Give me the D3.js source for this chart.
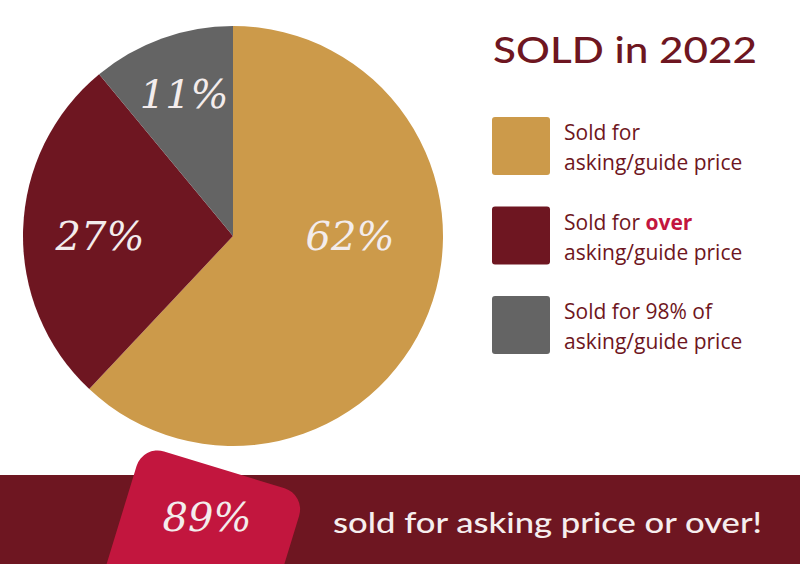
<!DOCTYPE html>
<html>
<head>
<meta charset="utf-8">
<script src="https://cdn.jsdelivr.net/npm/d3@7"></script>
<style>
  html, body { margin: 0; padding: 0; background: #ffffff; }
  svg { display: block; }
</style>
</head>
<body>
<svg id="chart" width="800" height="564"></svg>
<script>
// ---- data ----
const categories = ["Sold for asking/guide price", "Sold for over asking/guide price", "Sold for 98% of asking/guide price"];
const values = [62, 27, 11];
const legendLine1 = ["Sold for ", "Sold for ", "Sold for 98% of"];
const legendBold = ["", "over", ""];
const legendLine2 = ["asking/guide price", "asking/guide price", "asking/guide price"];
const title = "SOLD in 2022";
const bannerValue = 89;
const bannerText = "sold for asking price or over!";

// ---- styling / layout ----
const colors = ["#CC9A4A", "#6E1621", "#646464"];
const darkRed = "#6E1621";
const crimson = "#C2163E";
const labelColor = "#F3ECEC";
const cx = 233, cy = 236, R = 210;
// label anchor (angle in degrees clockwise from top, radius)
const labelAnchors = [[90, 117], [270, 133], [341, 150]];

const svg = d3.select("#chart");

// pie
const pie = d3.pie().sort(null).value(d => d);
const arc = d3.arc().innerRadius(0).outerRadius(R);
const arcs = pie(values);
const g = svg.append("g").attr("transform", `translate(${cx},${cy})`);
g.selectAll("path").data(arcs).enter().append("path")
  .attr("d", arc)
  .attr("fill", (d, i) => colors[i]);

const scriptFont = "'DejaVu Serif', serif";
g.selectAll("text.pct").data(arcs).enter().append("text")
  .attr("class", "pct")
  .attr("x", (d, i) => labelAnchors[i][1] * Math.sin(labelAnchors[i][0] * Math.PI / 180))
  .attr("y", (d, i) => -labelAnchors[i][1] * Math.cos(labelAnchors[i][0] * Math.PI / 180))
  .attr("dy", "0.35em")
  .attr("text-anchor", "middle")
  .attr("font-family", scriptFont)
  .attr("font-style", "italic")
  .attr("font-weight", 300)
  .attr("font-size", 40)
  .attr("fill", labelColor)
  .text(d => d.value + "%");

// title
svg.append("text")
  .attr("x", 493).attr("y", 63)
  .attr("font-family", "Lato, 'Noto Sans', sans-serif")
  .attr("font-size", 36)
  .attr("font-weight", 500)
  .attr("fill", darkRed)
  .attr("textLength", 264)
  .attr("lengthAdjust", "spacingAndGlyphs")
  .text(title);

// legend
const legendY = d3.scalePoint().domain(d3.range(categories.length)).range([117, 296]);
const leg = svg.selectAll("g.leg").data(categories).enter().append("g")
  .attr("class", "leg")
  .attr("transform", (d, i) => `translate(492,${legendY(i)})`);
leg.append("rect")
  .attr("width", 58).attr("height", 58).attr("rx", 3)
  .attr("fill", (d, i) => colors[i]);
const t1 = leg.append("text")
  .attr("x", 72).attr("y", 23)
  .attr("font-family", "'Open Sans', sans-serif")
  .attr("font-size", 21)
  .attr("fill", darkRed);
t1.append("tspan").text((d, i) => legendLine1[i]);
t1.append("tspan").attr("font-weight", 700).attr("fill", crimson).text((d, i) => legendBold[i]);
leg.append("text")
  .attr("x", 72).attr("y", 53)
  .attr("font-family", "'Open Sans', sans-serif")
  .attr("font-size", 21)
  .attr("fill", darkRed)
  .text((d, i) => legendLine2[i]);

// banner
svg.append("rect")
  .attr("x", 0).attr("y", 475).attr("width", 800).attr("height", 89)
  .attr("fill", darkRed);
svg.append("g")
  .attr("transform", "translate(143,445) rotate(17)")
  .append("rect")
  .attr("width", 170).attr("height", 220).attr("rx", 22)
  .attr("fill", crimson);
svg.append("text")
  .attr("x", 207).attr("y", 517).attr("dy", "0.35em")
  .attr("text-anchor", "middle")
  .attr("font-family", scriptFont)
  .attr("font-style", "italic")
  .attr("font-weight", 300)
  .attr("font-size", 40)
  .attr("fill", labelColor)
  .text(bannerValue + "%");
svg.append("text")
  .attr("x", 333).attr("y", 533)
  .attr("font-family", "Lato, 'Noto Sans', sans-serif")
  .attr("font-size", 28)
  .attr("font-weight", 500)
  .attr("fill", "#F6EEEE")
  .attr("textLength", 429)
  .attr("lengthAdjust", "spacingAndGlyphs")
  .text(bannerText);
</script>
</body>
</html>
